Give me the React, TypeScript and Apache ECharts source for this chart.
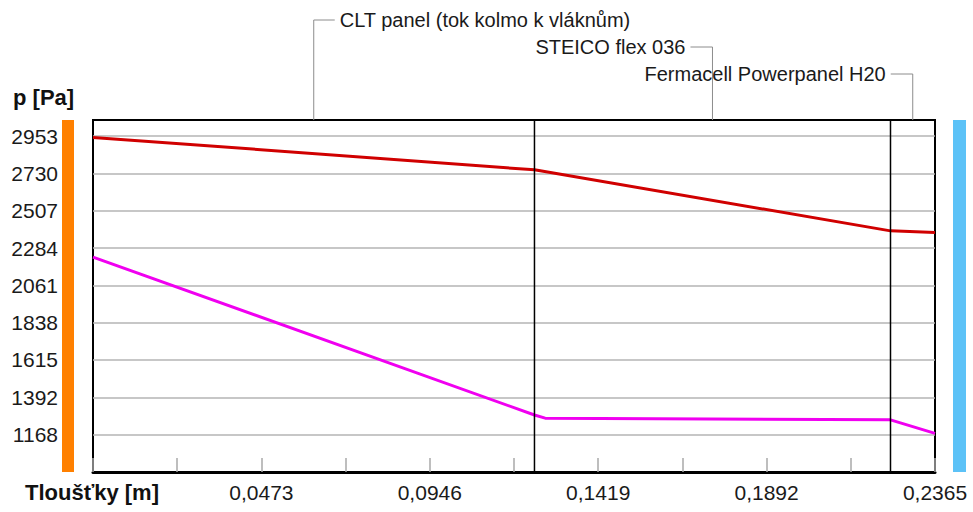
import React, { useEffect, useRef } from 'react';
import * as echarts from 'echarts';

// Layers (thickness boundaries in m) and their names
const layerNames = ['CLT panel (tok kolmo k vláknům)', 'STEICO flex 036', 'Fermacell Powerpanel H20'];
const layerBounds = [0, 0.124, 0.224, 0.2365];

// Saturated vapour pressure (red)
const satX = [0, 0.124, 0.224, 0.2365];
const satP = [2946, 2752, 2387, 2377];

// Partial vapour pressure (magenta)
const vapX = [0, 0.124, 0.127, 0.224, 0.2365];
const vapP = [2230, 1286, 1267, 1257, 1176];

// Tick labels
const yTickLabels = ['1168', '1392', '1615', '1838', '2061', '2284', '2507', '2730', '2953'];
const xTickLabels = ['0,0473', '0,0946', '0,1419', '0,1892', '0,2365'];
const yAxisTitle = 'p [Pa]';
const xAxisTitle = 'Tloušťky [m]';

const Y_MIN = 945;
const Y_MAX = 3050;
const X_MAX = 0.2365;
const X_STEP = 0.02365;

export default function App() {
  const ref = useRef<HTMLDivElement>(null);

  useEffect(() => {
    if (!ref.current) return;
    const chart = echarts.init(ref.current, null, { renderer: 'svg' });
    const font = '"Liberation Sans", Arial, sans-serif';
    const yVals = yTickLabels.map(Number);
    const xVals = xTickLabels.map((s) => parseFloat(s.replace(',', '.')));

    const findLabel = (vals: number[], labels: string[], v: number) => {
      for (let i = 0; i < vals.length; i++) {
        if (Math.abs(vals[i] - v) < 1e-6 * Math.max(1, Math.abs(v))) return labels[i];
      }
      return '';
    };

    const boundarySeries = layerBounds.slice(1, -1).map((b) => ({
      type: 'line',
      data: [[b, Y_MIN], [b, Y_MAX]],
      showSymbol: false,
      silent: true,
      lineStyle: { color: '#000', width: 1.5 },
      z: 4,
    }));

    chart.setOption({
      animation: false,
      backgroundColor: '#ffffff',
      grid: {
        left: 93,
        right: 38,
        top: 120,
        bottom: 40,
        show: true,
        borderColor: '#000',
        borderWidth: 2,
        backgroundColor: '#ffffff',
      },
      xAxis: {
        type: 'value',
        min: 0,
        max: X_MAX,
        interval: X_STEP,
        axisLine: { show: true, onZero: false, lineStyle: { color: '#000', width: 3 } },
        axisTick: { show: true, inside: true, length: 14, lineStyle: { color: '#a8a8a8', width: 1.5 } },
        axisLabel: {
          customValues: xVals,
          formatter: (v: number) => findLabel(xVals, xTickLabels, v),
          fontSize: 21,
          color: '#1a1a1a',
          margin: 10,
          fontFamily: font,
        },
        splitLine: { show: false },
      },
      yAxis: {
        type: 'value',
        min: Y_MIN,
        max: Y_MAX,
        axisLine: { show: false },
        axisTick: { show: false, customValues: yVals },
        axisLabel: {
          customValues: yVals,
          formatter: (v: number) => findLabel(yVals, yTickLabels, v),
          fontSize: 21,
          color: '#1a1a1a',
          margin: 35,
          fontFamily: font,
        },
        splitLine: { show: true, lineStyle: { color: '#b4b4b4', width: 1.5 } },
      },
      series: [
        ...boundarySeries,
        {
          type: 'line',
          data: vapX.map((x, i) => [x, vapP[i]]),
          showSymbol: false,
          lineStyle: { color: '#f000f0', width: 3 },
          z: 3,
        },
        {
          type: 'line',
          data: satX.map((x, i) => [x, satP[i]]),
          showSymbol: false,
          lineStyle: { color: '#d00000', width: 3 },
          z: 3,
        },
      ],
    });

    const px = (x: number, y: number) => chart.convertToPixel({ gridIndex: 0 }, [x, y]) as number[];
    const topY = px(0, Y_MAX)[1];
    const botY = px(0, Y_MIN)[1];
    const leftX = px(0, Y_MIN)[0];
    const rightX = px(X_MAX, Y_MIN)[0];

    const textY = [20, 47, 74];
    const graphics: any[] = [];
    layerNames.forEach((name, i) => {
      const mid = (layerBounds[i] + layerBounds[i + 1]) / 2;
      const mx = px(mid, Y_MAX)[0];
      const ty = textY[i];
      const toRight = i === 0;
      const hx = toRight ? mx + 21 : mx - 22;
      graphics.push({
        type: 'polyline',
        shape: { points: [[mx, topY], [mx, ty], [hx, ty]] },
        style: { stroke: '#8c8c8c', lineWidth: 1, fill: 'none' },
        silent: true,
      });
      graphics.push({
        type: 'text',
        x: toRight ? mx + 26 : mx - 27,
        y: ty,
        style: {
          text: name,
          font: `20px ${font}`,
          fill: '#1a1a1a',
          align: toRight ? 'left' : 'right',
          verticalAlign: 'middle',
        },
        silent: true,
      });
    });

    // colour bars left and right of the plot
    graphics.push({
      type: 'rect',
      shape: { x: leftX - 31, y: topY, width: 12, height: botY - topY },
      style: { fill: '#ff8000' },
      silent: true,
    });
    graphics.push({
      type: 'rect',
      shape: { x: rightX + 18, y: topY, width: 13, height: botY - topY },
      style: { fill: '#5cc2f7' },
      silent: true,
    });

    // axis titles
    graphics.push({
      type: 'text',
      x: 13,
      y: 97,
      style: { text: yAxisTitle, font: `bold 22px ${font}`, fill: '#111', align: 'left', verticalAlign: 'middle' },
      silent: true,
    });
    graphics.push({
      type: 'text',
      x: 25,
      y: 492,
      style: { text: xAxisTitle, font: `bold 22px ${font}`, fill: '#111', align: 'left', verticalAlign: 'middle' },
      silent: true,
    });

    chart.setOption({ graphic: graphics });

    return () => {
      chart.dispose();
    };
  }, []);

  return (
    <div
      ref={ref}
      style={{ position: 'absolute', left: 0, top: 0, width: 973, height: 512, background: '#fff' }}
    />
  );
}
